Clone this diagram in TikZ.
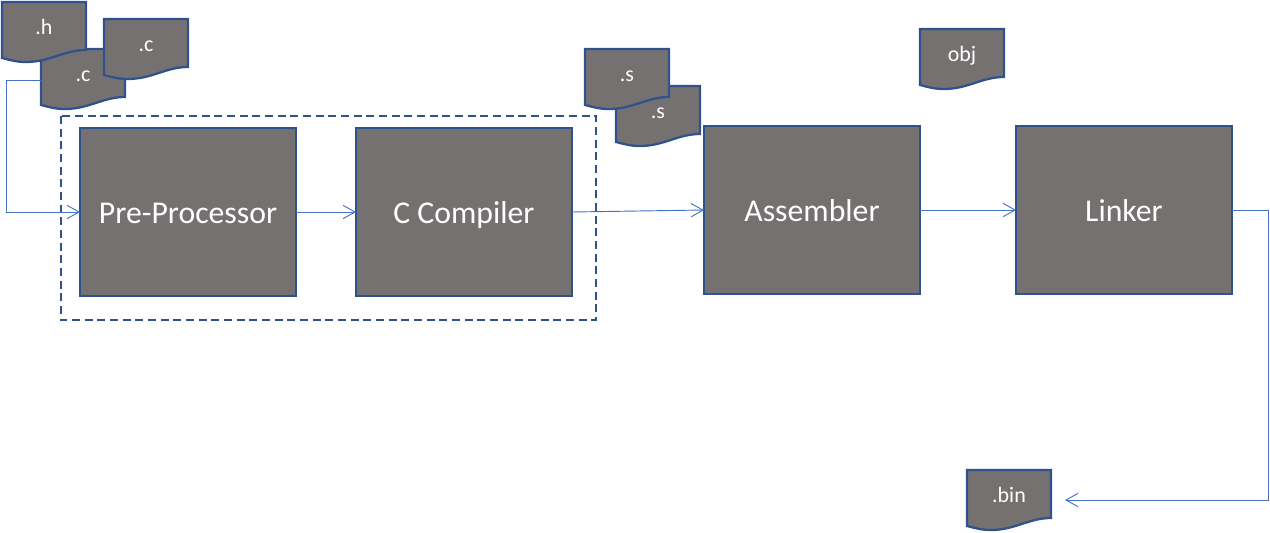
\documentclass[tikz,border=0pt]{standalone}
\usepackage{fontspec}
\setmainfont{Carlito}
\usetikzlibrary{arrows.meta}
\definecolor{boxfill}{HTML}{767171}
\definecolor{boxline}{HTML}{2F528F}
\definecolor{flowline}{HTML}{4472C4}
\newcommand{\docfile}[4]{
  \begin{scope}[shift={(#2,#3)}]
    \draw[docline] (0,0)--(84,0)--(84,48) .. controls (62,48) and (48,60) .. (24,60)
        .. controls (14,60) and (8,58) .. (0,56)--cycle;
    \node[doctext,anchor=base] (#1) at (42,32) {#4};
  \end{scope}
}
\begin{document}
\begin{tikzpicture}[x=0.75pt,y=-0.75pt,
    stagebox/.style={draw=boxline,fill=boxfill,line width=1.7pt,text=white,font=\fontsize{23.8}{28}\selectfont,
        minimum width=162pt,minimum height=126pt,inner sep=0pt,outer sep=0pt,text height=20.5pt,text depth=3pt},
    docline/.style={draw=boxline,fill=boxfill,line width=1.7pt},
    doctext/.style={text=white,font=\fontsize{16.5}{20}\selectfont,inner sep=0pt},
    flow/.style={draw=flowline,line width=0.7pt,-{Straight Barb[length=9pt,width=10pt,line width=0.7pt]}}]
    \useasboundingbox (0,0) rectangle (1270,532);
    \docfile{cfileb}{41}{49}{.c}
    \docfile{hfile}{2}{2}{.h}
    \docfile{cfilea}{104}{19}{.c}
    \docfile{sfileb}{616}{86}{.s}
    \docfile{sfilea}{585}{49}{.s}
    \docfile{objfile}{920}{29}{obj}
    \docfile{binfile}{967}{470}{.bin}
    \draw[draw=boxline,line width=1.5pt,dash pattern=on 6pt off 3.5pt] (60.5,116)rectangle(596,320);
    \node[stagebox] (prep) at (188,212) {Pre-Processor};
    \node[stagebox] (ccomp) at (464,212) {C Compiler};
    \node[stagebox] (asm) at (812,210) {Assembler};
    \node[stagebox] (link) at (1124,210) {Linker};
    \coordinate (cout) at (41,80);
    \coordinate (binin) at (1065,500);
    \draw[flow] (cout)--(6,80)--(6,212)--(prep.west);
    \draw[flow] (prep.east)--(ccomp.west);
    \draw[flow] (ccomp.east)--(asm.west);
    \draw[flow] (asm.east)--(link.west);
    \draw[flow] (link.east)--(1268,210)--(1268,500)--(binin);
\end{tikzpicture}
\end{document}
